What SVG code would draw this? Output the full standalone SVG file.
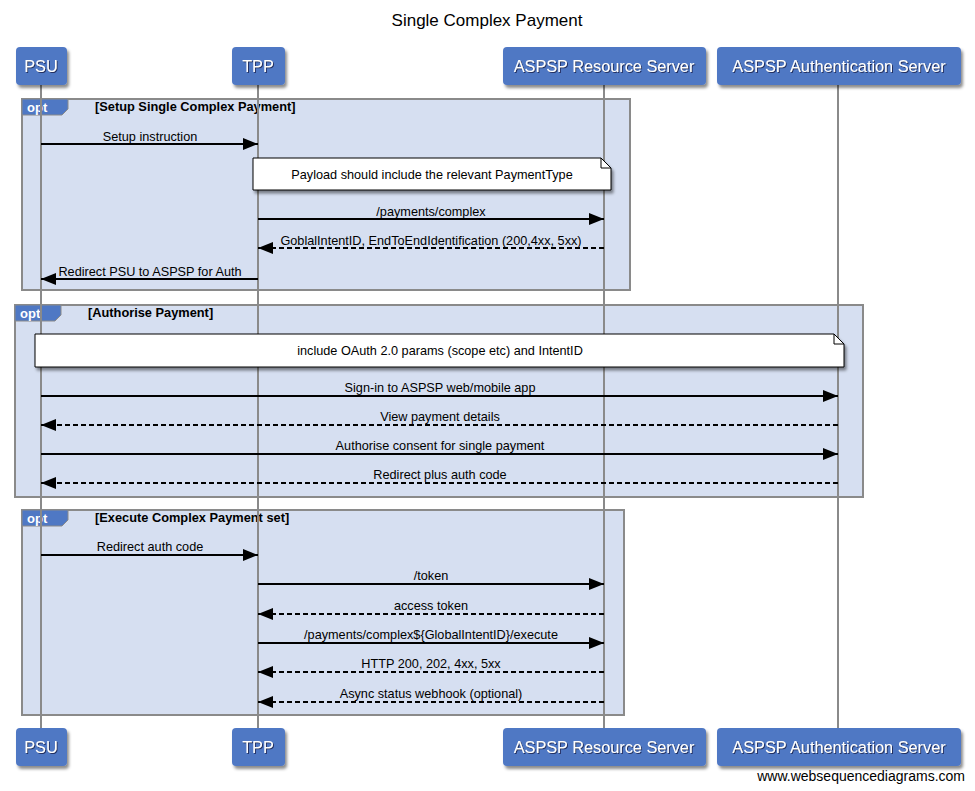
<svg xmlns="http://www.w3.org/2000/svg" width="975" height="791" viewBox="0 0 975 791">
  <defs>
    <filter id="shadow" x="-10%" y="-10%" width="130%" height="140%">
      <feDropShadow dx="2" dy="3" stdDeviation="1.5" flood-color="#000" flood-opacity="0.45"/>
    </filter>
    <filter id="txtshadow" x="-5%" y="-20%" width="115%" height="150%">
      <feDropShadow dx="1" dy="1" stdDeviation="0.6" flood-color="#1a2a55" flood-opacity="0.9"/>
    </filter>
    <marker id="ah" markerWidth="15" markerHeight="12" refX="15" refY="6" orient="auto" markerUnits="userSpaceOnUse">
      <path d="M0,0 L15,6 L0,12 Z" fill="#000"/>
    </marker>
  </defs>
  <style>
    text { font-family: "Liberation Sans", Arial, sans-serif; }
    .title { font-size: 17px; fill: #000; text-anchor: middle; }
    .actor rect { fill: #4f78c4; filter: url(#shadow); }
    .actor text { font-size: 16.3px; fill: #fff; text-anchor: middle; filter: url(#txtshadow); }
    .frame { fill: #d6dff1; stroke: #8a8a8a; stroke-width: 2; }
    .tab { fill: #4f78c4; stroke: #8a8a8a; stroke-width: 1; }
    .tabtxt { font-size: 13px; font-weight: bold; fill: #fff; }
    .cond { font-size: 12.8px; font-weight: bold; fill: #000; }
    .life { stroke: #8a8a8a; stroke-width: 2; }
    .note path.body { fill: #fff; stroke: #000; stroke-width: 1; filter: url(#shadow); }
    .note path.fold { fill: none; stroke: #000; stroke-width: 1; }
    .note text { font-size: 12.7px; fill: #000; text-anchor: middle; }
    .msg { stroke: #000; stroke-width: 2; fill: none; marker-end: url(#ah); }
    .ret { stroke-dasharray: 5 3; }
    .lbl { font-size: 12.7px; fill: #000; text-anchor: middle; }
    .wm { font-size: 14px; fill: #000; text-anchor: end; }
  </style>

  <rect width="975" height="791" fill="#fff"/>
  <text class="title" x="487" y="26">Single Complex Payment</text>

  <!-- combined fragments -->
  <g id="opt-setup">
    <rect class="frame" x="22" y="99" width="608" height="191"/>
    <path class="tab" d="M22,99 H68 V109 L62,115 H22 Z"/>
    <text class="tabtxt" x="27" y="112">opt</text>
    <text class="cond" x="95" y="111">[Setup Single Complex Payment]</text>
  </g>
  <g id="opt-authorise">
    <rect class="frame" x="15" y="305" width="848" height="192"/>
    <path class="tab" d="M15,305 H61 V315 L55,321 H15 Z"/>
    <text class="tabtxt" x="20" y="318">opt</text>
    <text class="cond" x="88" y="317">[Authorise Payment]</text>
  </g>
  <g id="opt-execute">
    <rect class="frame" x="22" y="510" width="602" height="205"/>
    <path class="tab" d="M22,510 H68 V520 L62,526 H22 Z"/>
    <text class="tabtxt" x="27" y="523">opt</text>
    <text class="cond" x="95" y="522">[Execute Complex Payment set]</text>
  </g>

  <!-- lifelines -->
  <g id="lifelines">
    <line class="life" x1="41" y1="85" x2="41" y2="729"/>
    <line class="life" x1="258" y1="85" x2="258" y2="729"/>
    <line class="life" x1="604" y1="85" x2="604" y2="729"/>
    <line class="life" x1="838" y1="85" x2="838" y2="729"/>
  </g>

  <!-- participants -->
  <g id="psu" class="actor">
    <rect x="16" y="47" width="51" height="38" rx="4"/>
    <text x="41" y="72">PSU</text>
    <rect x="16" y="728" width="51" height="38" rx="4"/>
    <text x="41" y="753">PSU</text>
  </g>
  <g id="tpp" class="actor">
    <rect x="232" y="47" width="53" height="38" rx="4"/>
    <text x="258" y="72">TPP</text>
    <rect x="232" y="728" width="53" height="38" rx="4"/>
    <text x="258" y="753">TPP</text>
  </g>
  <g id="aspsp-resource" class="actor">
    <rect x="503" y="47" width="203" height="38" rx="4"/>
    <text x="604" y="72">ASPSP Resource Server</text>
    <rect x="503" y="728" width="203" height="38" rx="4"/>
    <text x="604" y="753">ASPSP Resource Server</text>
  </g>
  <g id="aspsp-auth" class="actor">
    <rect x="717" y="47" width="244" height="38" rx="4"/>
    <text x="839" y="72">ASPSP Authentication Server</text>
    <rect x="717" y="728" width="244" height="38" rx="4"/>
    <text x="839" y="753">ASPSP Authentication Server</text>
  </g>

  <!-- notes -->
  <g id="note-payload" class="note">
    <path class="body" d="M253,158 H601 L611,168 V190 H253 Z"/>
    <path class="fold" d="M601,158 V168 H611"/>
    <text x="432" y="179">Payload should include the relevant PaymentType</text>
  </g>
  <g id="note-oauth" class="note">
    <path class="body" d="M35,334 H834 L844,344 V367 H35 Z"/>
    <path class="fold" d="M834,334 V344 H844"/>
    <text x="440" y="355">include OAuth 2.0 params (scope etc) and IntentID</text>
  </g>

  <!-- messages -->
  <g id="connectors">
    <line class="msg" x1="41" y1="144" x2="258" y2="144"/>
    <text class="lbl" x="150" y="141">Setup instruction</text>

    <line class="msg" x1="258" y1="219" x2="604" y2="219"/>
    <text class="lbl" x="431" y="216">/payments/complex</text>

    <line class="msg ret" x1="604" y1="248" x2="258" y2="248"/>
    <text class="lbl" x="431" y="245">GoblalIntentID, EndToEndIdentification (200,4xx, 5xx)</text>

    <line class="msg" x1="258" y1="279" x2="41" y2="279"/>
    <text class="lbl" x="150" y="276">Redirect PSU to ASPSP for Auth</text>

    <line class="msg" x1="41" y1="396" x2="838" y2="396"/>
    <text class="lbl" x="440" y="392">Sign-in to ASPSP web/mobile app</text>

    <line class="msg ret" x1="838" y1="425" x2="41" y2="425"/>
    <text class="lbl" x="440" y="421">View payment details</text>

    <line class="msg" x1="41" y1="454" x2="838" y2="454"/>
    <text class="lbl" x="440" y="450">Authorise consent for single payment</text>

    <line class="msg ret" x1="838" y1="483" x2="41" y2="483"/>
    <text class="lbl" x="440" y="479">Redirect plus auth code</text>

    <line class="msg" x1="41" y1="555" x2="258" y2="555"/>
    <text class="lbl" x="150" y="551">Redirect auth code</text>

    <line class="msg" x1="258" y1="584" x2="604" y2="584"/>
    <text class="lbl" x="431" y="580">/token</text>

    <line class="msg ret" x1="604" y1="614" x2="258" y2="614"/>
    <text class="lbl" x="431" y="610">access token</text>

    <line class="msg" x1="258" y1="643" x2="604" y2="643"/>
    <text class="lbl" x="431" y="639">/payments/complex${GlobalIntentID}/execute</text>

    <line class="msg ret" x1="604" y1="672" x2="258" y2="672"/>
    <text class="lbl" x="431" y="668">HTTP 200, 202, 4xx, 5xx</text>

    <line class="msg ret" x1="604" y1="702" x2="258" y2="702"/>
    <text class="lbl" x="431" y="698">Async status webhook (optional)</text>
  </g>

  <text class="wm" x="965" y="781">www.websequencediagrams.com</text>
</svg>
